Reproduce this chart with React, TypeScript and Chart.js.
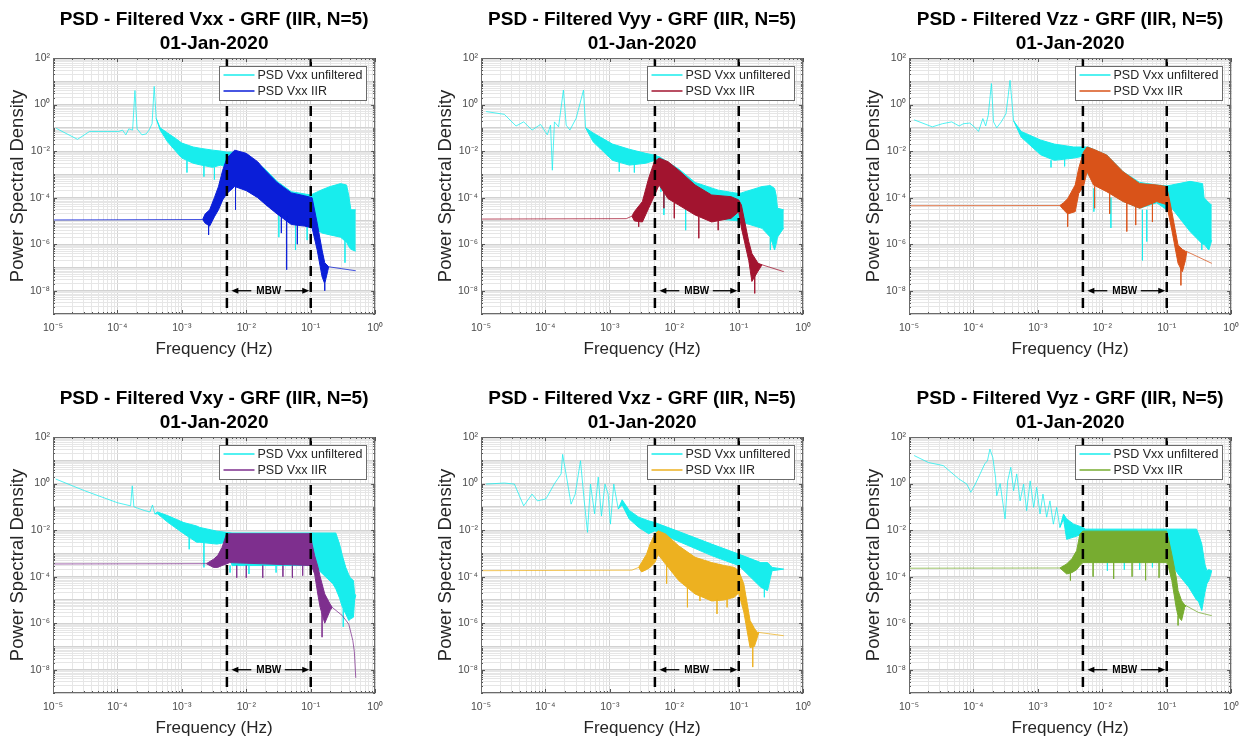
import React, { useEffect, useRef } from 'react';
import { Chart, registerables } from 'chart.js';

Chart.register(...registerables);
Chart.defaults.font.family = '"Liberation Sans", Arial, Helvetica, sans-serif';

// [frequency (Hz), upper PSD, lower PSD] — equal values are a thin line
type Row = [number, number, number];
// [frequency (Hz), spike start, spike end]
type Spike = [number, number, number];

const TITLES = [
  'PSD - Filtered Vxx - GRF (IIR, N=5)',
  'PSD - Filtered Vyy - GRF (IIR, N=5)',
  'PSD - Filtered Vzz - GRF (IIR, N=5)',
  'PSD - Filtered Vxy - GRF (IIR, N=5)',
  'PSD - Filtered Vxz - GRF (IIR, N=5)',
  'PSD - Filtered Vyz - GRF (IIR, N=5)',
];
const DATE_LABEL = '01-Jan-2020';
const SERIES_LABELS = ['PSD Vxx unfiltered', 'PSD Vxx IIR'];
const RAW_COLOR = '#18eded';
const IIR_COLORS = ['#0a1ed8', '#a2142f', '#d95319', '#7e2f8e', '#edb120', '#77ac30'];
const X_TITLE = 'Frequency (Hz)';
const Y_TITLE = 'Power Spectral Density';
const X_DECADES = [-5, -4, -3, -2, -1, 0];
const Y_DECADES = [-9, -8, -7, -6, -5, -4, -3, -2, -1, 0, 1, 2];
const Y_LABELED = [2, 0, -2, -4, -6, -8];
const MINOR_MULTIPLES = [2, 3, 4, 5, 6, 7, 8, 9];
const MBW_EDGES = [0.005, 0.1];
const MBW_LEVEL = 1e-8;
const MBW_TEXT = 'MBW';

// ---------- Vxx ----------
const VXX_RAW: Row[] = [
  [1.12e-5, 0.095, 0.095], [2.4e-5, 0.032, 0.032], [3.7e-5, 0.07, 0.07], [1.05e-4, 0.07, 0.07],
  [1.2e-4, 0.08, 0.08], [1.35e-4, 0.05, 0.05], [1.5e-4, 0.09, 0.09], [1.72e-4, 0.08, 0.08],
  [1.87e-4, 4.0, 4.0], [2.02e-4, 0.09, 0.09], [2.4e-4, 0.05, 0.05], [2.8e-4, 0.055, 0.055],
  [3.1e-4, 0.08, 0.08], [3.45e-4, 0.15, 0.15], [3.72e-4, 6.0, 6.0], [4.0e-4, 0.25, 0.25],
  [4.6e-4, 0.1, 0.08], [6e-4, 0.06, 0.025], [8e-4, 0.035, 0.01], [1e-3, 0.022, 0.005],
  [1.5e-3, 0.015, 0.003], [2e-3, 0.013, 0.0025], [3e-3, 0.011, 0.002], [4e-3, 0.01, 0.0025],
  [5e-3, 0.009, 0.002], [7e-3, 0.009, 5e-4], [1e-2, 0.007, 3e-4], [2e-2, 1.6e-3, 6e-5],
  [3e-2, 5e-4, 2.5e-5], [5e-2, 1.8e-4, 1e-5], [0.1, 1.3e-4, 6e-6], [0.15, 2.2e-4, 3e-6],
  [0.2, 3e-4, 2.5e-6], [0.29, 4e-4, 2e-6], [0.36, 3.5e-4, 1.2e-6], [0.39, 1.2e-4, 8e-7],
  [0.42, 3e-5, 6e-7], [0.5, 3e-5, 5e-7],
];
const VXX_RAW_SPIKES: Spike[] = [[1.2e-3, 4e-3, 1.2e-3], [2.2e-3, 2.5e-3, 8e-4], [3.2e-3, 2e-3, 6e-4], [0.032, 2e-5, 2e-6], [0.058, 8e-6, 5.6e-7], [0.088, 6e-6, 1.5e-6], [0.34, 1.5e-6, 1.6e-7]];
const VXX_IIR: Row[] = [
  [1e-5, 1.1e-5, 1.1e-5], [2.1e-3, 1.15e-5, 1.15e-5], [2.3e-3, 2e-5, 8e-6], [2.7e-3, 3e-5, 6e-6],
  [3.2e-3, 1e-4, 1.5e-5], [3.7e-3, 3e-4, 3e-5], [4.3e-3, 1.5e-3, 8e-5], [5e-3, 5e-3, 1.5e-4],
  [6.6e-3, 1.1e-2, 3e-4], [1e-2, 8e-3, 2e-4], [1.5e-2, 3.5e-3, 1e-4], [2e-2, 1.4e-3, 5e-5],
  [3e-2, 4.5e-4, 2e-5], [5e-2, 1.6e-4, 7e-6], [0.08, 1.2e-4, 6e-6], [0.105, 1e-4, 5e-6],
  [0.126, 8e-6, 5.6e-7], [0.15, 5.6e-7, 4e-8], [0.165, 1.6e-7, 2e-8], [0.19, 1.07e-7, 1.07e-7],
  [0.5, 7.2e-8, 7.2e-8],
];
const VXX_IIR_SPIKES: Spike[] = [[2.6e-3, 8e-6, 2.5e-6], [6.8e-3, 3e-4, 3e-5], [0.035, 2e-5, 3e-6], [0.0423, 1.5e-5, 8e-8], [0.062, 7e-6, 1e-6], [0.165, 2e-8, 1e-8]];

// ---------- Vyy ----------
const VYY_RAW: Row[] = [
  [1.2e-5, 0.5, 0.5], [2.3e-5, 0.38, 0.38], [3.5e-5, 0.12, 0.12], [4.6e-5, 0.18, 0.18],
  [6.2e-5, 0.08, 0.08], [8.4e-5, 0.14, 0.14], [1.07e-4, 0.05, 0.05], [1.2e-4, 0.13, 0.13],
  [1.28e-4, 1.5e-3, 1.5e-3], [1.38e-4, 0.18, 0.18], [1.6e-4, 0.11, 0.11], [1.9e-4, 4.2, 4.2],
  [2.1e-4, 0.13, 0.13], [2.4e-4, 0.08, 0.08], [3.0e-4, 0.26, 0.26], [3.9e-4, 4.2, 4.2],
  [4.2e-4, 0.1, 0.1], [5.5e-4, 0.06, 0.025], [1.1e-3, 0.02, 4e-3], [2e-3, 0.012, 2.5e-3],
  [3.6e-3, 0.008, 3e-3], [5e-3, 0.0066, 4e-3], [6e-3, 5.5e-3, 4e-4], [1.17e-2, 1.7e-3, 6e-5],
  [2.1e-2, 4.5e-4, 2.5e-5], [4.8e-2, 2.1e-4, 1.2e-5], [0.1, 1.5e-4, 1e-5], [0.11, 1.6e-4, 9e-6],
  [0.23, 3e-4, 4.8e-6], [0.31, 3.3e-4, 2e-6], [0.36, 2.5e-4, 5.6e-7], [0.38, 1.3e-4, 1e-6],
  [0.4, 3.5e-5, 2e-6], [0.5, 3e-5, 5e-6],
];
const VYY_RAW_SPIKES: Spike[] = [[1.4e-3, 4e-3, 1.3e-3], [2.4e-3, 3e-3, 1.2e-3], [6.2e-3, 3e-4, 1.8e-4], [6.9e-3, 2.5e-4, 1.8e-5], [1.5e-2, 8e-5, 4e-6], [0.31, 2e-6, 5.6e-7]];
const VYY_IIR: Row[] = [
  [1e-5, 1.2e-5, 1.2e-5], [1.8e-3, 1.25e-5, 1.25e-5], [2.2e-3, 1.6e-5, 1.6e-5], [2.4e-3, 2.5e-5, 1e-5],
  [3.2e-3, 6.8e-5, 9e-6], [4e-3, 6.8e-4, 3.5e-5], [4.9e-3, 3.5e-3, 1.2e-4], [5.8e-3, 5e-3, 3.5e-4],
  [8e-3, 3.5e-3, 9e-5], [1.17e-2, 1.5e-3, 4.8e-5], [2.1e-2, 3.5e-4, 1.8e-5], [3.8e-2, 1.3e-4, 9e-6],
  [7.6e-2, 1.1e-4, 1.3e-5], [0.1, 8e-5, 2.5e-5], [0.11, 4.8e-5, 5e-6], [0.143, 1.3e-6, 2e-7],
  [0.16, 4e-7, 2.5e-8], [0.2, 1.5e-7, 7e-8], [0.23, 1.3e-7, 1.3e-7], [0.5, 6.6e-8, 6.6e-8],
];
const VYY_IIR_SPIKES: Spike[] = [[2.8e-3, 1.2e-5, 5.6e-6], [6.9e-3, 2e-4, 3.5e-5], [1.0e-2, 6e-5, 1.3e-5], [2.4e-2, 1.5e-5, 1.8e-6], [4.8e-2, 1e-5, 4e-6], [0.177, 5e-8, 7.7e-9]];

// ---------- Vzz ----------
const VZZ_RAW: Row[] = [
  [1.2e-5, 0.22, 0.22], [2.3e-5, 0.11, 0.11], [3.3e-5, 0.15, 0.15], [4.6e-5, 0.18, 0.18],
  [6e-5, 0.12, 0.12], [7e-5, 0.15, 0.15], [8.8e-5, 0.16, 0.16], [1.07e-4, 0.1, 0.1],
  [1.2e-4, 0.07, 0.07], [1.4e-4, 0.25, 0.25], [1.55e-4, 0.12, 0.12], [1.7e-4, 0.35, 0.35],
  [1.9e-4, 8, 8], [2.05e-4, 0.18, 0.18], [2.3e-4, 0.1, 0.1], [2.7e-4, 0.18, 0.18],
  [3.2e-4, 0.4, 0.4], [3.7e-4, 11, 11], [4.2e-4, 0.2, 0.2], [5.5e-4, 0.07, 0.04],
  [1.1e-3, 0.03, 7e-3], [1.8e-3, 0.02, 4e-3], [3.6e-3, 0.015, 5e-3], [5e-3, 0.015, 6e-3],
  [6e-3, 0.015, 1e-3], [1.17e-2, 6.8e-3, 2e-4], [2.1e-2, 1.3e-3, 7e-5], [3.8e-2, 4.5e-4, 3.5e-5],
  [7e-2, 3.5e-4, 6e-5], [0.1, 3.2e-4, 3e-5], [0.12, 3.5e-4, 3.5e-5], [0.23, 5e-4, 3.5e-6],
  [0.36, 4e-4, 1e-6], [0.38, 1e-4, 1e-6], [0.45, 6e-5, 5.6e-7], [0.5, 4.8e-5, 1.5e-6],
];
const VZZ_RAW_SPIKES: Spike[] = [[1.6e-3, 4e-3, 2e-3], [2.6e-3, 5e-3, 2.2e-3], [7.4e-3, 2.5e-4, 2.5e-5], [1.36e-2, 1e-4, 5e-6], [4.2e-2, 3e-5, 2e-7], [4.9e-2, 3e-5, 1.3e-6], [0.35, 1.2e-6, 5.6e-7]];
const VZZ_IIR: Row[] = [
  [1e-5, 4.5e-5, 4.5e-5], [2.2e-3, 4.6e-5, 4.6e-5], [2.5e-3, 6e-5, 3e-5], [2.9e-3, 9e-5, 2e-5],
  [3.8e-3, 3.5e-4, 2.5e-5], [4.3e-3, 1.8e-3, 1.5e-4], [5.1e-3, 9e-3, 3e-4], [5.8e-3, 0.015, 1.3e-3],
  [7.3e-3, 0.012, 3.5e-4], [1.17e-2, 6.8e-3, 1.8e-4], [2.1e-2, 1.3e-3, 6.8e-5], [3.8e-2, 4e-4, 3.5e-5],
  [7e-2, 3.5e-4, 6.8e-5], [0.1, 3e-4, 5e-5], [0.12, 2.5e-5, 4e-6], [0.15, 9e-7, 1.5e-7],
  [0.175, 6e-7, 6.6e-8], [0.195, 5e-7, 2e-7], [0.205, 4.8e-7, 4.8e-7], [0.5, 1.5e-7, 1.5e-7],
];
const VZZ_IIR_SPIKES: Spike[] = [[2.9e-3, 2e-5, 5.6e-6], [7.6e-3, 3e-4, 3.5e-5], [1.3e-2, 1.5e-4, 2e-5], [2.4e-2, 6e-5, 3.5e-6], [3.3e-2, 4e-5, 6.6e-6], [6e-2, 6e-5, 9e-6], [0.166, 1e-7, 1.7e-8]];

// ---------- Vxy ----------
const VXY_RAW: Row[] = [
  [1.1e-5, 1.57, 1.57], [3.1e-5, 0.49, 0.49], [1.0e-4, 0.15, 0.15], [1.6e-4, 0.11, 0.11],
  [1.7e-4, 0.8, 0.8], [1.8e-4, 0.1, 0.1], [2.6e-4, 0.07, 0.07], [3.2e-4, 0.06, 0.06],
  [3.5e-4, 0.12, 0.12], [3.8e-4, 0.05, 0.05], [4.2e-4, 0.06, 0.05], [6e-4, 0.042, 0.022],
  [1.07e-3, 0.021, 7e-3], [1.7e-3, 0.015, 3e-3], [1.9e-3, 0.013, 3e-3], [3.5e-3, 0.009, 2.5e-3],
  [4.9e-3, 8e-3, 3e-3], [6e-3, 7.5e-3, 3e-4], [0.1, 7.5e-3, 3e-4], [0.12, 7.5e-3, 2.5e-4],
  [0.22, 7.5e-3, 5e-5], [0.245, 7.5e-3, 3e-5], [0.28, 2.5e-3, 1.2e-5], [0.31, 8e-4, 4.8e-6],
  [0.35, 2.5e-4, 2.5e-6], [0.39, 1.2e-4, 1.3e-6], [0.41, 9e-5, 1.5e-6], [0.46, 6.8e-5, 1.8e-6],
  [0.48, 1.8e-5, 1e-5], [0.5, 1.6e-5, 1.6e-5],
];
const VXY_RAW_SPIKES: Spike[] = [[1.3e-3, 5e-3, 1.5e-3], [2.2e-3, 3e-3, 2.5e-4], [5.6e-3, 3e-4, 1.5e-4], [1.1e-2, 3e-4, 1.3e-4], [2.9e-2, 3e-4, 1.5e-4], [0.32, 4e-6, 7e-7]];
const VXY_IIR: Row[] = [
  [1e-5, 3.5e-4, 3.5e-4], [2.4e-3, 3.6e-4, 3.6e-4], [3.1e-3, 5.6e-4, 2.5e-4], [3.6e-3, 8e-4, 2.5e-4],
  [4.2e-3, 1.8e-3, 3e-4], [4.9e-3, 6.5e-3, 3.5e-4], [5.5e-3, 7e-3, 4e-4], [0.1, 7e-3, 3e-4],
  [0.105, 2.5e-3, 2.5e-4], [0.115, 8e-4, 1.3e-4], [0.13, 2.5e-4, 1.5e-5], [0.14, 1e-4, 4.8e-6],
  [0.165, 1.8e-5, 1e-6], [0.2, 6.6e-6, 3.5e-6], [0.215, 4.8e-6, 4.8e-6], [0.31, 2.1e-6, 2.1e-6],
  [0.39, 9e-7, 9e-7], [0.45, 1.8e-7, 1.8e-7], [0.475, 6e-8, 6e-8], [0.5, 4.5e-9, 4.5e-9],
];
const VXY_IIR_SPIKES: Spike[] = [[7.1e-3, 3e-4, 9e-5], [1.0e-2, 3e-4, 9e-5], [1.8e-2, 3e-4, 9e-5], [3.7e-2, 3e-4, 1e-4], [5.2e-2, 3e-4, 9e-5], [7.5e-2, 3e-4, 1.1e-4], [0.15, 3e-6, 2.5e-7]];

// ---------- Vxz ----------
const VXZ_RAW: Row[] = [
  [1.2e-5, 0.95, 0.95], [2.3e-5, 1.05, 1.05], [3.3e-5, 0.95, 0.95], [4.6e-5, 0.11, 0.11],
  [6.2e-5, 0.35, 0.35], [7.5e-5, 0.18, 0.18], [1.02e-4, 0.22, 0.22], [1.37e-4, 0.95, 0.95],
  [1.75e-4, 2.6, 2.6], [1.85e-4, 18, 18], [2.13e-4, 1.9, 1.9], [2.5e-4, 0.13, 0.13],
  [2.9e-4, 0.35, 0.35], [3.5e-4, 9.6, 9.6], [4.0e-4, 0.18, 0.18], [4.5e-4, 8e-3, 8e-3],
  [5.0e-4, 0.95, 0.95], [5.8e-4, 0.05, 0.05], [6.6e-4, 1.9, 1.9], [7.4e-4, 0.04, 0.04],
  [8.4e-4, 0.95, 0.95], [9.4e-4, 0.35, 0.35], [1.02e-3, 0.018, 0.018], [1.15e-3, 0.95, 0.95],
  [1.35e-3, 0.08, 0.08], [1.55e-3, 0.2, 0.12], [2e-3, 0.07, 0.03], [2.8e-3, 0.036, 0.013],
  [4e-3, 0.025, 7e-3], [5e-3, 0.021, 9.3e-3], [1.1e-2, 9.3e-3, 3.5e-3], [3.8e-2, 2.5e-3, 8e-4],
  [0.1, 9.3e-4, 3e-4], [0.22, 4e-4, 3.5e-5], [0.28, 4e-4, 2.5e-5], [0.31, 3e-4, 9e-5],
  [0.33, 2.5e-4, 1.8e-4], [0.5, 2.1e-4, 2.1e-4],
];
const VXZ_RAW_SPIKES: Spike[] = [[0.25, 5e-5, 1.3e-5]];
const VXZ_IIR: Row[] = [
  [1e-5, 1.8e-4, 1.8e-4], [2.2e-3, 1.9e-4, 1.9e-4], [2.8e-3, 2.5e-4, 2.5e-4], [3.1e-3, 4e-4, 1.6e-4],
  [3.7e-3, 9e-4, 2e-4], [4.2e-3, 2.5e-3, 2.5e-4], [5e-3, 6.8e-3, 4e-4], [5.6e-3, 9.3e-3, 9e-4],
  [7.3e-3, 6.8e-3, 3.5e-4], [1.17e-2, 2.1e-3, 6.8e-5], [2.1e-2, 6.8e-4, 1.8e-5], [3.8e-2, 4e-4, 9e-6],
  [6e-2, 3e-4, 1e-5], [8.5e-2, 2.5e-4, 1.3e-5], [0.1, 1.8e-4, 2e-5], [0.12, 4.8e-5, 3e-6],
  [0.15, 1.3e-6, 9e-8], [0.175, 6e-7, 1e-7], [0.195, 4e-7, 2.5e-7], [0.205, 4e-7, 4e-7],
  [0.5, 2.9e-7, 2.9e-7],
];
const VXZ_IIR_SPIKES: Spike[] = [[7.6e-3, 3e-4, 5e-5], [1.6e-2, 4e-5, 4.8e-6], [2.5e-2, 2.5e-5, 9e-6], [4.6e-2, 1e-5, 2.5e-6], [6.6e-2, 1.2e-5, 4.8e-6], [0.165, 1e-7, 1.3e-8]];

// ---------- Vyz ----------
const VYZ_RAW: Row[] = [
  [1.2e-5, 16, 16], [2e-5, 8, 8], [3.4e-5, 5.9, 5.9], [5.9e-5, 1.6, 1.6],
  [7.9e-5, 0.95, 0.95], [9.1e-5, 0.42, 0.42], [1.07e-4, 0.95, 0.95], [1.27e-4, 2.6, 2.6],
  [1.5e-4, 7, 7], [1.65e-4, 9.5, 9.5], [1.8e-4, 30, 30], [2e-4, 13, 13],
  [2.2e-4, 1.9, 1.9], [2.3e-4, 0.3, 0.3], [2.6e-4, 1.0, 1.0], [3.1e-4, 0.03, 0.03],
  [3.4e-4, 1.3, 1.3], [3.8e-4, 5, 5], [4.2e-4, 0.49, 0.49], [4.7e-4, 2.6, 2.6],
  [5.3e-4, 0.18, 0.18], [6e-4, 0.95, 0.95], [6.7e-4, 0.068, 0.068], [7.6e-4, 1.3, 1.3],
  [8.6e-4, 0.095, 0.095], [9.6e-4, 0.69, 0.69], [1.08e-3, 0.049, 0.049], [1.2e-3, 0.35, 0.35],
  [1.37e-3, 0.036, 0.036], [1.54e-3, 0.18, 0.18], [1.74e-3, 0.018, 0.018], [1.96e-3, 0.095, 0.095],
  [2.2e-3, 0.013, 0.013], [2.5e-3, 0.049, 0.03], [2.8e-3, 0.03, 4e-3], [3.6e-3, 0.018, 5e-3],
  [5e-3, 0.013, 6.8e-3], [5.5e-3, 0.011, 6e-4], [0.1, 0.011, 6e-4], [0.11, 0.011, 5e-4],
  [0.15, 0.011, 1.3e-4], [0.22, 0.011, 3.5e-5], [0.29, 0.011, 1e-5], [0.31, 7e-3, 9e-6],
  [0.35, 2.5e-3, 3.5e-6], [0.39, 3.5e-4, 2e-5], [0.42, 1.8e-4, 5e-5], [0.45, 2e-4, 6.8e-5],
  [0.5, 1.8e-4, 1.8e-4],
];
const VYZ_RAW_SPIKES: Spike[] = [[1.2e-2, 5e-4, 1.8e-4], [2.2e-2, 5e-4, 2e-4], [3.8e-2, 5e-4, 2e-4], [6e-2, 5e-4, 2.5e-4]];
const VYZ_IIR: Row[] = [
  [1e-5, 2.3e-4, 2.3e-4], [2.2e-3, 2.35e-4, 2.35e-4], [2.8e-3, 3.5e-4, 1.3e-4], [3.4e-3, 6e-4, 1.5e-4],
  [4e-3, 1.3e-3, 2e-4], [4.5e-3, 6.8e-3, 3e-4], [5e-3, 9e-3, 4e-4], [0.1, 9e-3, 4e-4],
  [0.105, 5e-3, 3e-4], [0.12, 9e-4, 6.8e-5], [0.14, 1e-4, 4.8e-6], [0.15, 2.5e-5, 2e-6],
  [0.17, 9.3e-6, 1.3e-6], [0.19, 6e-6, 4.8e-6], [0.2, 5.6e-6, 5.6e-6], [0.31, 2.9e-6, 2.9e-6],
  [0.5, 2.1e-6, 2.1e-6],
];
const VYZ_IIR_SPIKES: Spike[] = [[3.2e-3, 2e-4, 6.8e-5], [7.2e-3, 4e-4, 1e-4], [1.5e-2, 4e-4, 8e-5], [2.9e-2, 4e-4, 1e-4], [4.7e-2, 4e-4, 7e-5], [7.6e-2, 4e-4, 9e-5], [0.15, 2e-6, 8e-7]];

const PANELS = [
  { title: TITLES[0], color: IIR_COLORS[0], raw: VXX_RAW, rawSpikes: VXX_RAW_SPIKES, iir: VXX_IIR, iirSpikes: VXX_IIR_SPIKES },
  { title: TITLES[1], color: IIR_COLORS[1], raw: VYY_RAW, rawSpikes: VYY_RAW_SPIKES, iir: VYY_IIR, iirSpikes: VYY_IIR_SPIKES },
  { title: TITLES[2], color: IIR_COLORS[2], raw: VZZ_RAW, rawSpikes: VZZ_RAW_SPIKES, iir: VZZ_IIR, iirSpikes: VZZ_IIR_SPIKES },
  { title: TITLES[3], color: IIR_COLORS[3], raw: VXY_RAW, rawSpikes: VXY_RAW_SPIKES, iir: VXY_IIR, iirSpikes: VXY_IIR_SPIKES },
  { title: TITLES[4], color: IIR_COLORS[4], raw: VXZ_RAW, rawSpikes: VXZ_RAW_SPIKES, iir: VXZ_IIR, iirSpikes: VXZ_IIR_SPIKES },
  { title: TITLES[5], color: IIR_COLORS[5], raw: VYZ_RAW, rawSpikes: VYZ_RAW_SPIKES, iir: VYZ_IIR, iirSpikes: VYZ_IIR_SPIKES },
];
type PanelCfg = typeof PANELS[number];

const FONT = '"Liberation Sans", Arial, Helvetica, sans-serif';
const GRID_MAJOR = '#d2d2d2';
const GRID_MINOR = '#e6e6e6';
const SUP: Record<string, string> = { '-': '\u207B', '0': '\u2070', '1': '\u00B9', '2': '\u00B2', '3': '\u00B3', '4': '\u2074', '5': '\u2075', '6': '\u2076', '7': '\u2077', '8': '\u2078', '9': '\u2079' };
const powLabel = (e: number) => '10' + String(e).split('').map((c) => SUP[c]).join('');
const isDecade = (v: number) => Math.abs(Math.log10(v) - Math.round(Math.log10(v))) < 1e-6;
const expOf = (v: number) => Math.round(Math.log10(v));

function logTicks(decades: number[]) {
  const out: { value: number }[] = [];
  decades.forEach((d, i) => {
    out.push({ value: Math.pow(10, d) });
    if (i < decades.length - 1) MINOR_MULTIPLES.forEach((k) => out.push({ value: k * Math.pow(10, d) }));
  });
  return out;
}

function withAlpha(hex: string, a: number) {
  const n = parseInt(hex.slice(1), 16);
  return `rgba(${(n >> 16) & 255},${(n >> 8) & 255},${n & 255},${a})`;
}

function bandDatasets(rows: Row[], color: string, order: number, label: string) {
  const thin = rows.map((r) => r[1] === r[2]);
  const thinColor = withAlpha(color, 0.75);
  return [
    {
      label,
      data: rows.map((r) => ({ x: r[0], y: r[1] })),
      borderColor: color,
      backgroundColor: color,
      fill: '+1',
      borderWidth: 1,
      pointRadius: 0,
      order: order + 0.5,
      segment: { borderColor: (c: any) => (thin[c.p0DataIndex] && thin[c.p1DataIndex] ? thinColor : color) },
    },
    {
      label: label + ' (lower envelope)',
      data: rows.map((r) => ({ x: r[0], y: r[2] })),
      borderColor: color,
      fill: false,
      borderWidth: 1,
      pointRadius: 0,
      order,
      segment: { borderColor: (c: any) => (thin[c.p0DataIndex] && thin[c.p1DataIndex] ? 'rgba(0,0,0,0)' : color) },
    },
  ];
}

function spikeDataset(spikes: Spike[], color: string, order: number, label: string) {
  const data: { x: number; y: number | null }[] = [];
  spikes.forEach((s) => {
    data.push({ x: s[0], y: s[1] }, { x: s[0], y: s[2] }, { x: s[0], y: null });
  });
  return { label, data, borderColor: withAlpha(color, 0.8), borderWidth: 1, pointRadius: 0, fill: false, spanGaps: false, order };
}

function dashedDataset(f: number, label: string) {
  return {
    label,
    data: [{ x: f, y: Math.pow(10, Y_DECADES[Y_DECADES.length - 1]) }, { x: f, y: Math.pow(10, Y_DECADES[0]) }],
    borderColor: '#000',
    borderWidth: 2.5,
    borderDash: [10, 6],
    pointRadius: 0,
    fill: false,
    order: 0,
  };
}

function drawArrow(ctx: CanvasRenderingContext2D, fromX: number, toX: number, y: number) {
  const dir = toX > fromX ? 1 : -1;
  ctx.beginPath();
  ctx.moveTo(fromX, y);
  ctx.lineTo(toX - dir * 5, y);
  ctx.stroke();
  ctx.beginPath();
  ctx.moveTo(toX, y);
  ctx.lineTo(toX - dir * 7, y - 3);
  ctx.lineTo(toX - dir * 7, y + 3);
  ctx.closePath();
  ctx.fill();
}

const overlayPlugin = {
  id: 'psdOverlay',
  afterDatasetsDraw(chart: any, _args: any, opts: any) {
    const { ctx, chartArea: a, scales } = chart;
    const xs = scales.x;
    const ys = scales.y;
    ctx.save();

    // MBW annotation
    const yv = ys.getPixelForValue(MBW_LEVEL);
    const xl = xs.getPixelForValue(MBW_EDGES[0]);
    const xr = xs.getPixelForValue(MBW_EDGES[1]);
    const xm = xs.getPixelForValue(Math.sqrt(MBW_EDGES[0] * MBW_EDGES[1]));
    ctx.font = `bold 10px ${FONT}`;
    ctx.fillStyle = '#000';
    ctx.strokeStyle = '#000';
    ctx.lineWidth = 1.3;
    ctx.textAlign = 'center';
    ctx.textBaseline = 'middle';
    ctx.fillText(MBW_TEXT, xm, yv + 0.5);
    const tw = ctx.measureText(MBW_TEXT).width;
    drawArrow(ctx, xm - tw / 2 - 5, xl + 4.5, yv);
    drawArrow(ctx, xm + tw / 2 + 3.5, xr - 1.5, yv);

    // inner tick marks
    ctx.strokeStyle = '#555';
    ctx.lineWidth = 1;
    ctx.beginPath();
    xs.ticks.forEach((t: any) => {
      const px = Math.round(xs.getPixelForValue(t.value)) + 0.5;
      const len = isDecade(t.value) ? 4 : 2;
      ctx.moveTo(px, a.bottom);
      ctx.lineTo(px, a.bottom - len);
      ctx.moveTo(px, a.top);
      ctx.lineTo(px, a.top + len);
    });
    ys.ticks.forEach((t: any) => {
      const py = Math.round(ys.getPixelForValue(t.value)) + 0.5;
      const len = isDecade(t.value) && Y_LABELED.includes(expOf(t.value)) ? 4 : 2;
      ctx.moveTo(a.left, py);
      ctx.lineTo(a.left + len, py);
      ctx.moveTo(a.right, py);
      ctx.lineTo(a.right - len, py);
    });
    ctx.stroke();

    // axes box
    ctx.strokeStyle = '#6b6b6b';
    ctx.strokeRect(Math.round(a.left) + 0.5, Math.round(a.top) + 0.5, Math.round(a.width) - 1, Math.round(a.height) - 1);

    // legend
    const items = opts.items as { label: string; color: string }[];
    const bw = 147;
    const bh = 34;
    const bx = Math.round(a.right - 9 - bw) + 0.5;
    const by = Math.round(a.top + 8) + 0.5;
    ctx.fillStyle = '#fff';
    ctx.fillRect(bx, by, bw, bh);
    ctx.strokeStyle = '#6b6b6b';
    ctx.lineWidth = 1;
    ctx.strokeRect(bx, by, bw, bh);
    ctx.font = `12.5px ${FONT}`;
    ctx.textAlign = 'left';
    ctx.textBaseline = 'middle';
    items.forEach((it, i) => {
      const yy = Math.round(by + 8.5 + i * 16);
      ctx.strokeStyle = it.color;
      ctx.lineWidth = 1.5;
      ctx.beginPath();
      ctx.moveTo(bx + 4, yy);
      ctx.lineTo(bx + 35, yy);
      ctx.stroke();
      ctx.fillStyle = '#262626';
      ctx.fillText(it.label, bx + 38, yy + 0.5);
    });
    ctx.restore();
  },
};

function Panel({ cfg, left, top }: { cfg: PanelCfg; left: number; top: number }) {
  const ref = useRef<HTMLCanvasElement>(null);
  useEffect(() => {
    if (!ref.current) return;
    const datasets: any[] = [
      dashedDataset(MBW_EDGES[0], 'MBW lower edge'),
      dashedDataset(MBW_EDGES[1], 'MBW upper edge'),
      spikeDataset(cfg.iirSpikes, cfg.color, 1, SERIES_LABELS[1] + ' spikes'),
      ...bandDatasets(cfg.iir, cfg.color, 2, SERIES_LABELS[1]),
      spikeDataset(cfg.rawSpikes, RAW_COLOR, 3.5, SERIES_LABELS[0] + ' spikes'),
      ...bandDatasets(cfg.raw, RAW_COLOR, 4, SERIES_LABELS[0]),
    ];
    const gridColor = (c: any) => (c.tick && isDecade(c.tick.value) ? GRID_MAJOR : GRID_MINOR);
    const chart = new Chart(ref.current, {
      type: 'line',
      data: { datasets },
      plugins: [overlayPlugin as any],
      options: {
        animation: false,
        responsive: false,
        events: [],
        layout: { padding: { left: 0, right: 13, top: 0, bottom: 0 } },
        elements: { line: { tension: 0 } },
        plugins: {
          legend: { display: false },
          tooltip: { enabled: false },
          title: {
            display: true,
            fullSize: false,
            text: [cfg.title, DATE_LABEL],
            color: '#000',
            font: { size: 19, weight: 'bold', lineHeight: '24px', family: FONT },
            padding: { top: 8, bottom: 2 },
          },
          psdOverlay: {
            items: [
              { label: SERIES_LABELS[0], color: RAW_COLOR },
              { label: SERIES_LABELS[1], color: cfg.color },
            ],
          },
        } as any,
        scales: {
          x: {
            type: 'logarithmic',
            min: Math.pow(10, X_DECADES[0]),
            max: Math.pow(10, X_DECADES[X_DECADES.length - 1]),
            afterBuildTicks: (s: any) => { s.ticks = logTicks(X_DECADES); },
            afterFit: (s: any) => { s.height = 45; },
            ticks: {
              autoSkip: false,
              maxRotation: 0,
              padding: 8,
              color: '#4a4a4a',
              font: { size: 10.5, family: FONT },
              callback: (v: any) => (isDecade(Number(v)) ? powLabel(expOf(Number(v))) : ''),
            },
            grid: { drawTicks: false, color: gridColor },
            border: { display: false },
            title: {
              display: true,
              text: X_TITLE,
              color: '#262626',
              font: { size: 17, lineHeight: '20px', family: FONT },
              padding: { top: 0, bottom: 0 },
            },
          },
          y: {
            type: 'logarithmic',
            min: Math.pow(10, Y_DECADES[0]),
            max: Math.pow(10, Y_DECADES[Y_DECADES.length - 1]),
            afterBuildTicks: (s: any) => { s.ticks = logTicks(Y_DECADES); },
            afterFit: (s: any) => { s.width = 53; },
            ticks: {
              autoSkip: false,
              padding: 3,
              color: '#4a4a4a',
              font: { size: 10.5, family: FONT },
              callback: (v: any) => {
                const n = Number(v);
                return isDecade(n) && Y_LABELED.includes(expOf(n)) ? powLabel(expOf(n)) : '';
              },
            },
            grid: { drawTicks: false, color: gridColor },
            border: { display: false },
            title: {
              display: true,
              text: Y_TITLE,
              color: '#262626',
              font: { size: 18.5, lineHeight: 1.2, family: FONT },
              padding: { top: 7, bottom: 0 },
            },
          },
        },
      } as any,
    });
    return () => chart.destroy();
  }, [cfg]);
  return (
    <canvas
      ref={ref}
      width={391}
      height={359}
      style={{ position: 'absolute', left, top, width: 391, height: 359, display: 'block' }}
    />
  );
}

const COL_LEFT = [0, 428, 856];
const ROW_TOP = [0, 379];

export default function App() {
  return (
    <div style={{ position: 'absolute', left: 0, top: 0, width: 1247, height: 738, background: '#fff', overflow: 'hidden' }}>
      {PANELS.map((p, i) => (
        <Panel key={i} cfg={p} left={COL_LEFT[i % 3]} top={ROW_TOP[Math.floor(i / 3)]} />
      ))}
    </div>
  );
}
